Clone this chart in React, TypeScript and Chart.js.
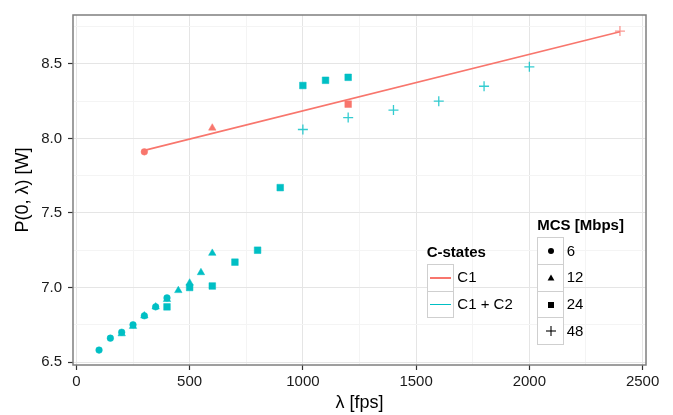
import React, { useEffect, useRef } from 'react';
import { Chart, registerables } from 'chart.js';

Chart.register(...registerables);

const RED = '#F8766D';
const CYAN = '#00BFC4';
const RED_PLUS = 'rgba(248,118,109,0.75)';
const CYAN_PLUS = 'rgba(0,191,196,0.8)';

// C1 (red)
const c1CircleX = [300];
const c1CircleY = [7.91];
const c1TriangleX = [600];
const c1TriangleY = [8.07];
const c1SquareX = [1200];
const c1SquareY = [8.23];
const c1PlusX = [2400];
const c1PlusY = [8.72];
const c1FitX = [300, 2400];
const c1FitY = [7.92, 8.715];

// C1 + C2 (cyan)
const c2CircleX = [100, 150, 200, 250, 300, 350, 400];
const c2CircleY = [6.58, 6.66, 6.7, 6.75, 6.81, 6.87, 6.93];
const c2TriangleX = [200, 250, 300, 350, 400, 450, 500, 550, 600];
const c2TriangleY = [6.69, 6.74, 6.81, 6.87, 6.92, 6.98, 7.03, 7.1, 7.23];
const c2SquareX = [400, 500, 600, 700, 800, 900, 1000, 1100, 1200];
const c2SquareY = [6.87, 7.0, 7.01, 7.17, 7.25, 7.67, 8.355, 8.39, 8.41];
const c2PlusX = [1000, 1200, 1400, 1600, 1800, 2000];
const c2PlusY = [8.06, 8.14, 8.19, 8.25, 8.35, 8.48];

// axis ticks (major carry labels, minor are grid only)
const xMajorTicks = [0, 500, 1000, 1500, 2000, 2500];
const xMinorTicks = [250, 750, 1250, 1750, 2250];
const yMajorTicks = [6.5, 7.0, 7.5, 8.0, 8.5];
const yMinorTicks = [6.75, 7.25, 7.75, 8.25, 8.75];

const colorLegendTitle = 'C-states';
const colorLegendLabels = ['C1', 'C1 + C2'];
const shapeLegendTitle = 'MCS [Mbps]';
const shapeLegendLabels = ['6', '12', '24', '48'];

const FONT = '"Liberation Sans", Arial, Helvetica, sans-serif';

const pts = (xs: number[], ys: number[]) => xs.map((x, i) => ({ x, y: ys[i] }));
const isMajor = (arr: number[], v: number) => arr.some((t) => Math.abs(t - v) < 1e-6);
const allTicks = (a: number[], b: number[]) => [...a, ...b].sort((p, q) => p - q).map((value) => ({ value }));

function sym(data: { x: number; y: number }[], color: string, style: string, radius: number, bw = 0.5) {
  return {
    type: 'scatter' as const,
    data,
    pointStyle: style,
    pointRadius: radius,
    pointHoverRadius: radius,
    backgroundColor: color,
    borderColor: color,
    pointBorderWidth: bw,
    showLine: false,
  };
}

const panelBorder = {
  id: 'panelBorder',
  afterDraw(chart: any) {
    const { ctx, chartArea } = chart;
    ctx.save();
    ctx.strokeStyle = '#7F7F7F';
    ctx.lineWidth = 1.5;
    ctx.strokeRect(chartArea.left, chartArea.top, chartArea.right - chartArea.left, chartArea.bottom - chartArea.top);
    ctx.restore();
  },
};

function Symbol({ kind }: { kind: number }) {
  const c = 13;
  let el: any = null;
  if (kind === 0) el = <circle cx={c} cy={c} r={3} fill="#000" />;
  if (kind === 1) el = <polygon points={`${c},${c - 3.6} ${c + 3.4},${c + 2.4} ${c - 3.4},${c + 2.4}`} fill="#000" />;
  if (kind === 2) el = <rect x={c - 3} y={c - 3} width={6} height={6} fill="#000" />;
  if (kind === 3)
    el = (
      <g stroke="#000" strokeWidth={1.1}>
        <line x1={c - 5} y1={c} x2={c + 5} y2={c} />
        <line x1={c} y1={c - 5} x2={c} y2={c + 5} />
      </g>
    );
  return (
    <svg width={26} height={26} style={{ position: 'absolute', left: 0, top: 0 }}>
      {el}
    </svg>
  );
}

export default function App() {
  const ref = useRef<HTMLCanvasElement | null>(null);

  useEffect(() => {
    document.body.style.margin = '0';
    const canvas = ref.current!;
    const chart = new Chart(canvas, {
      type: 'scatter',
      data: {
        datasets: [
          {
            type: 'line' as const,
            data: pts(c1FitX, c1FitY),
            borderColor: RED,
            borderWidth: 1.6,
            pointRadius: 0,
            fill: false,
          } as any,
          sym(pts(c2CircleX, c2CircleY), CYAN, 'circle', 3.3),
          sym(pts(c2TriangleX, c2TriangleY), CYAN, 'triangle', 4.3),
          sym(pts(c2SquareX, c2SquareY), CYAN, 'rect', 4.7),
          sym(pts(c2PlusX, c2PlusY), CYAN_PLUS, 'cross', 5, 1.3),
          sym(pts(c1CircleX, c1CircleY), RED, 'circle', 3.3),
          sym(pts(c1TriangleX, c1TriangleY), RED, 'triangle', 4.3),
          sym(pts(c1SquareX, c1SquareY), RED, 'rect', 4.7),
          sym(pts(c1PlusX, c1PlusY), RED_PLUS, 'cross', 5, 1.3),
        ],
      },
      options: {
        responsive: false,
        animation: false,
        events: [],
        layout: { padding: { left: 0, right: 27, top: 6, bottom: 0 } },
        plugins: { legend: { display: false }, tooltip: { enabled: false } },
        scales: {
          x: {
            type: 'linear',
            min: -15,
            max: 2515,
            afterBuildTicks: (s: any) => {
              s.ticks = allTicks(xMajorTicks, xMinorTicks);
            },
            afterFit: (s: any) => {
              s.height = 50;
            },
            ticks: {
              autoSkip: false,
              maxRotation: 0,
              padding: 3,
              color: '#1A1A1A',
              font: { family: FONT, size: 15 },
              callback: (v: any) => (isMajor(xMajorTicks, Number(v)) ? String(v) : ''),
            },
            grid: {
              color: (ctx: any) => (ctx.tick && isMajor(xMajorTicks, ctx.tick.value) ? '#E5E5E5' : '#F4F4F4'),
              lineWidth: 1,
              tickLength: 5,
              tickColor: (ctx: any) => (ctx.tick && isMajor(xMajorTicks, ctx.tick.value) ? '#333333' : 'rgba(0,0,0,0)'),
              tickWidth: 1.2,
            },
            border: { display: false },
            title: {
              display: true,
              text: 'λ [fps]',
              color: '#000',
              font: { family: FONT, size: 18 },
              padding: { top: 0, bottom: 1 },
            },
          },
          y: {
            type: 'linear',
            min: 6.48,
            max: 8.828,
            afterBuildTicks: (s: any) => {
              s.ticks = allTicks(yMajorTicks, yMinorTicks);
            },
            afterFit: (s: any) => {
              s.width = 73;
            },
            ticks: {
              autoSkip: false,
              padding: 6,
              color: '#1A1A1A',
              font: { family: FONT, size: 15 },
              callback: (v: any) => (isMajor(yMajorTicks, Number(v)) ? Number(v).toFixed(1) : ''),
            },
            grid: {
              color: (ctx: any) => (ctx.tick && isMajor(yMajorTicks, ctx.tick.value) ? '#E5E5E5' : '#F4F4F4'),
              lineWidth: 1,
              tickLength: 5,
              tickColor: (ctx: any) => (ctx.tick && isMajor(yMajorTicks, ctx.tick.value) ? '#333333' : 'rgba(0,0,0,0)'),
              tickWidth: 1.2,
            },
            border: { display: false },
            title: {
              display: true,
              text: 'P(0, λ) [W]',
              color: '#000',
              font: { family: FONT, size: 18 },
              padding: { top: 12, bottom: 0 },
            },
          },
        },
      },
      plugins: [panelBorder],
    } as any);
    return () => chart.destroy();
  }, []);

  const textStyle: React.CSSProperties = {
    position: 'absolute',
    fontFamily: FONT,
    fontSize: 15,
    color: '#000',
    whiteSpace: 'nowrap',
    lineHeight: '18px',
    height: 18,
  };
  const keyStyle: React.CSSProperties = {
    position: 'absolute',
    width: 27,
    height: 27.7,
    boxSizing: 'border-box',
    border: '1px solid #CFCFCF',
    background: '#fff',
  };

  const cLeft = 426.7;
  const cTops = [264, 290.7];
  const sLeft = 537.3;
  const sTops = [237.3, 264, 290.7, 317.3];

  return (
    <div style={{ position: 'fixed', left: 0, top: 0, width: 673, height: 415, background: '#fff' }}>
      <canvas ref={ref} width={673} height={415} style={{ position: 'absolute', left: 0, top: 0, width: 673, height: 415 }} />
      {/* colour legend */}
      <div style={{ ...textStyle, left: cLeft, top: 252 - 9, fontWeight: 'bold' }}>{colorLegendTitle}</div>
      {colorLegendLabels.map((lab, i) => (
        <React.Fragment key={lab}>
          <div style={{ ...keyStyle, left: cLeft, top: cTops[i] }}>
            <div
              style={{
                position: 'absolute',
                left: 2.5,
                width: 21,
                top: 12.2,
                height: 1.5,
                background: i === 0 ? RED : CYAN,
              }}
            />
          </div>
          <div style={{ ...textStyle, left: 457.3, top: cTops[i] + 13.3 - 9 }}>{lab}</div>
        </React.Fragment>
      ))}
      {/* shape legend */}
      <div style={{ ...textStyle, left: sLeft, top: 225 - 9, fontWeight: 'bold' }}>{shapeLegendTitle}</div>
      {shapeLegendLabels.map((lab, i) => (
        <React.Fragment key={lab}>
          <div style={{ ...keyStyle, left: sLeft, top: sTops[i] }}>
            <Symbol kind={i} />
          </div>
          <div style={{ ...textStyle, left: 566.7, top: sTops[i] + 13.3 - 9 }}>{lab}</div>
        </React.Fragment>
      ))}
    </div>
  );
}
